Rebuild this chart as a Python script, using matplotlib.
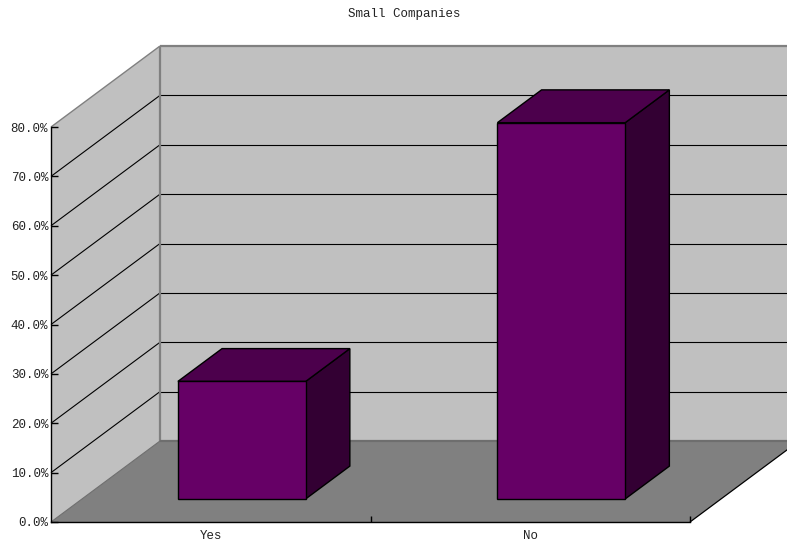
import numpy as np
import matplotlib
matplotlib.use("Agg")
import matplotlib.pyplot as plt
from matplotlib.patches import Polygon
from matplotlib.ticker import FuncFormatter

# Data
categories = ["Yes", "No"]
values = [23.8, 76.2]          # percent
y_ticks = [0, 10, 20, 30, 40, 50, 60, 70, 80]
title = "Small Companies"

plt.rcParams["font.family"] = ["Liberation Mono", "DejaVu Sans Mono"]

fig = plt.figure(figsize=(7.87, 5.48), dpi=100)
ax = fig.add_axes([51 / 787, 26 / 548, 639 / 787, 395 / 548])
ax.set_xlim(0, len(categories))
ax.set_ylim(0, 80)
ax.patch.set_visible(False)

# Oblique depth offset expressed in data units (full depth = 1)
KX = 109 / 319.5
KY = 81 / 4.9375


def proj(x, y, d):
    return (x + d * KX, y + d * KY)


def face(pts, color, z, ec="none", lw=0.0):
    poly = Polygon([proj(*p) for p in pts], closed=True, facecolor=color,
                   edgecolor=ec, linewidth=lw, zorder=z, clip_on=False,
                   joinstyle="miter")
    ax.add_patch(poly)


def edge(p0, p1, color, lw, z):
    a, b = proj(*p0), proj(*p1)
    ax.plot([a[0], b[0]], [a[1], b[1]], color=color, lw=lw, zorder=z,
            clip_on=False, solid_capstyle="butt")


n = len(categories)
ytop = y_ticks[-1]

# Walls and floor
face([(0, 0, 1), (n, 0, 1), (n, ytop, 1), (0, ytop, 1)], "#c0c0c0", 0.5)
face([(0, 0, 0), (0, 0, 1), (0, ytop, 1), (0, ytop, 0)], "#c0c0c0", 0.5)
face([(0, 0, 0), (n, 0, 0), (n, 0, 1), (0, 0, 1)], "#808080", 0.6)

# Gridlines on the back and side walls
for v in y_ticks[1:-1]:
    edge((0, v, 1), (n, v, 1), "black", 0.8, 0.7)
    edge((0, v, 0), (0, v, 1), "black", 0.8, 0.7)

# Wall outlines
edge((0, ytop, 1), (n, ytop, 1), "#808080", 1.6, 0.8)
edge((0, 0, 1), (0, ytop, 1), "#808080", 1.6, 0.8)
edge((0, ytop, 0), (0, ytop, 1), "#808080", 1.0, 0.8)
edge((0, 0, 1), (n, 0, 1), "#6e6e6e", 1.6, 0.8)
edge((0, 0, 0), (0, 0, 1), "#6e6e6e", 0.8, 0.8)
edge((n, 0, 0), (n, 0, 1), "black", 0.9, 0.8)

# Bars
front_c, top_c, side_c = "#660066", "#4c004c", "#330033"
d0, d1 = 0.285, 0.69
half = 0.2
for i, v in enumerate(values):
    x0, x1 = i + 0.5 - half, i + 0.5 + half
    face([(x1, 0, d0), (x1, 0, d1), (x1, v, d1), (x1, v, d0)], side_c, 1, "black", 1.0)
    face([(x0, v, d0), (x1, v, d0), (x1, v, d1), (x0, v, d1)], top_c, 1, "black", 1.0)
    face([(x0, 0, d0), (x1, 0, d0), (x1, v, d0), (x0, v, d0)], front_c, 1.1, "black", 1.0)

# Axes: spines, ticks and labels
for s in ("top", "right"):
    ax.spines[s].set_visible(False)
for s in ("left", "bottom"):
    ax.spines[s].set_color("black")
    ax.spines[s].set_linewidth(1.0)
    ax.spines[s].set_zorder(3)

ax.set_yticks(y_ticks)
ax.yaxis.set_major_formatter(FuncFormatter(lambda v, _: f"{v:.1f}%"))
ax.tick_params(axis="y", direction="in", length=5, width=1, pad=2,
               labelsize=9, colors="black", labelcolor="#222222")

ax.set_xticks(np.arange(1, n + 1))
ax.set_xticklabels([])
ax.set_xticks(np.arange(n) + 0.5, minor=True)
ax.set_xticklabels(categories, minor=True)
ax.tick_params(axis="x", which="major", direction="in", length=4, width=1)
ax.tick_params(axis="x", which="minor", length=0, pad=6, labelsize=9,
               labelcolor="#222222")

fig.text(404 / 787, 1 - 14 / 548, title, ha="center", va="center",
         fontsize=9, color="#222222")

fig.savefig("out.png", dpi=100, facecolor="white")
